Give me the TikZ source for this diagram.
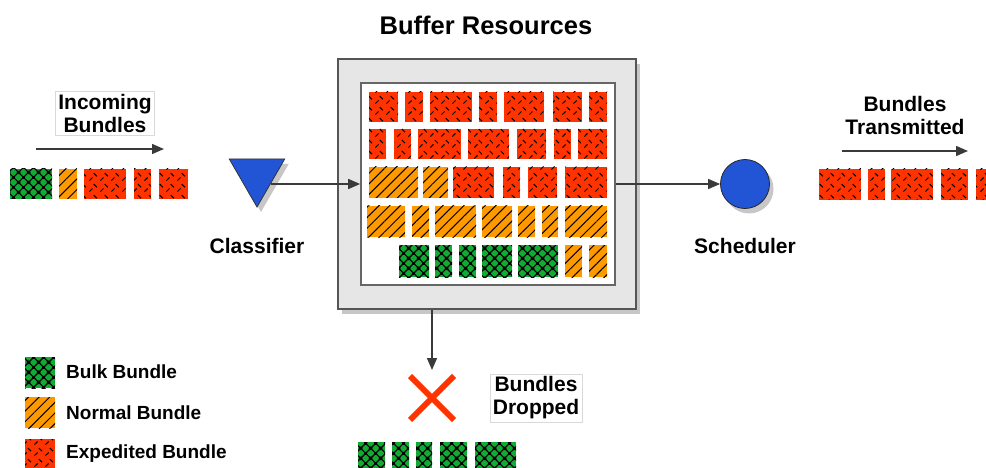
\documentclass[tikz,border=0pt]{standalone}
\usepackage{fontspec}
\setmainfont{Liberation Sans}
\usetikzlibrary{arrows.meta,patterns,patterns.meta,shapes.geometric,shapes.misc,shadows}

\definecolor{myred}{HTML}{FF3300}
\definecolor{myorange}{HTML}{FF9900}
\definecolor{mygreen}{HTML}{11AA33}
\definecolor{myblue}{HTML}{2255D5}
\definecolor{framefill}{HTML}{E6E6E6}
\definecolor{framedraw}{HTML}{555555}
\definecolor{arrowcol}{HTML}{3A3A3A}

\tikzdeclarepattern{
  name=diamondgrid,
  type=uncolored,
  bottom left={(0pt,0pt)},
  top right={(9.5pt,9.5pt)},
  tile size={(9.5pt,9.5pt)},
  code={
    \draw[line width=1.1pt] (0pt,0pt) -- (9.5pt,9.5pt) (0pt,9.5pt) -- (9.5pt,0pt);
    \fill (4.75pt,4.75pt) circle[radius=1.6pt];
    \fill (0pt,0pt) circle[radius=1.6pt];
    \fill (9.5pt,0pt) circle[radius=1.6pt];
    \fill (0pt,9.5pt) circle[radius=1.6pt];
    \fill (9.5pt,9.5pt) circle[radius=1.6pt];
  }
}
\tikzdeclarepattern{
  name=redweave,
  type=uncolored,
  bottom left={(0pt,0pt)},
  top right={(11pt,11pt)},
  tile size={(11pt,11pt)},
  code={
    \draw[line width=1.1pt] (1.5pt,1.5pt) -- (4.8pt,4.8pt);
    \draw[line width=1.1pt] (6.2pt,9.5pt) -- (9.5pt,6.2pt);
  }
}

\begin{document}
\begin{tikzpicture}[x=1pt,y=-1pt,
  expd/.style={fill=myred, postaction={pattern=redweave, pattern color=black}},
  norm/.style={fill=myorange, postaction={pattern={Lines[angle=45,distance=7.5pt,line width=1pt]}, pattern color=black}},
  bulk/.style={fill=mygreen, postaction={pattern=diamondgrid, pattern color=black}},
  lab/.style={font=\fontsize{21}{23}\selectfont\bfseries, align=center, inner sep=3pt},
  boxlab/.style={lab, draw=black!15, fill=white},
  leg/.style={font=\fontsize{19}{21}\selectfont\bfseries, anchor=west, inner sep=0pt},
  conn/.style={draw=arrowcol, line width=1.4pt, -{Triangle[length=12pt,width=10pt]}},
  shade/.style={drop shadow={shadow xshift=4pt, shadow yshift=-5pt, opacity=0.22, fill=black}}
]
\useasboundingbox (0,0) rectangle (986,468);

% title
\node[font=\fontsize{25.5}{28}\selectfont\bfseries] (title) at (486,25) {Buffer Resources};

% buffer frame
\node[shade, draw=framedraw, fill=framefill, line width=2pt, minimum width=298pt, minimum height=250pt, inner sep=0pt] (buf) at (487,184) {};
\node[draw=framedraw!90, fill=white, line width=1.6pt, minimum width=254pt, minimum height=202pt, inner sep=0pt] (inner) at (488,184) {};

% buffer rows
\foreach \a/\b in {369/398,405/423,430/472,479/497,504/544,553/582,589/607}
  \fill[expd] (\a,92) rectangle (\b,122);
\foreach \a/\b in {369/386,394/411,418/461,468/509,517/546,554/571,578/607}
  \fill[expd] (\a,129) rectangle (\b,159);
\foreach \a/\b in {369/418,423/448}
  \fill[norm] (\a,167) rectangle (\b,198);
\foreach \a/\b in {453/494,503/520,528/557,565/607}
  \fill[expd] (\a,167) rectangle (\b,198);
\foreach \a/\b in {367/405,412/429,435/476,482/512,518/535,542/558,565/607}
  \fill[norm] (\a,206) rectangle (\b,237);
\foreach \a/\b in {399/429,435/452,459/476,482/512,518/558}
  \fill[bulk] (\a,245) rectangle (\b,277);
\foreach \a/\b in {565/582,589/607}
  \fill[norm] (\a,245) rectangle (\b,277);

% classifier
\node[shade, regular polygon, regular polygon sides=3, shape border rotate=180, draw=black!80, fill=myblue, line width=0.8pt, minimum size=64pt, inner sep=0pt] (cls) at (257,175) {};
\node[lab] (clslab) at (257,246) {Classifier};

% scheduler
\node[shade, circle, draw=black!85, fill=myblue, line width=0.8pt, minimum size=49pt, inner sep=0pt] (sch) at (745,184) {};
\node[lab] (schlab) at (745,246) {Scheduler};

% connectors
\draw[conn] (cls.side 1 |- inner.west) -- (inner.west);
\draw[conn] (inner.east) -- (sch.west);

% drop
\node[cross out, draw=myred, line width=6pt, minimum size=38pt, inner sep=0pt] (drop) at (432,398) {};
\draw[conn] (buf.south -| drop) -- ([yshift=6pt]drop.north);
\node[boxlab] (droplab) at (536,398) {Bundles\\Dropped};
\foreach \a/\b in {358/385,392/409,416/432,440/467,475/516}
  \fill[bulk] (\a,442) rectangle (\b,472);

% incoming
\node[boxlab] (inlab) at (105,113) {Incoming\\Bundles};
\coordinate (ina) at (36,149);
\coordinate (inb) at (164,149);
\draw[conn] (ina) -- (inb);
\fill[bulk] (10,169) rectangle (52,199);
\fill[norm] (59,169) rectangle (77,199);
\foreach \a/\b in {84/126,134/151,159/188}
  \fill[expd] (\a,169) rectangle (\b,199);

% transmitted
\node[lab] (outlab) at (905,115) {Bundles\\Transmitted};
\coordinate (outa) at (842,151);
\coordinate (outb) at (968,151);
\draw[conn] (outa) -- (outb);
\foreach \a/\b in {819/861,868/885,891/933,941/968,976/990}
  \fill[expd] (\a,169) rectangle (\b,200);

% legend
\fill[bulk] (25,357) rectangle (55,388);
\fill[norm] (25,397) rectangle (55,428);
\fill[expd] (25,439) rectangle (55,470);
\node[leg] (l1) at (66,372) {Bulk Bundle};
\node[leg] (l2) at (66,413) {Normal Bundle};
\node[leg] (l3) at (66,454) {Expedited Bundle};
\end{tikzpicture}
\end{document}
